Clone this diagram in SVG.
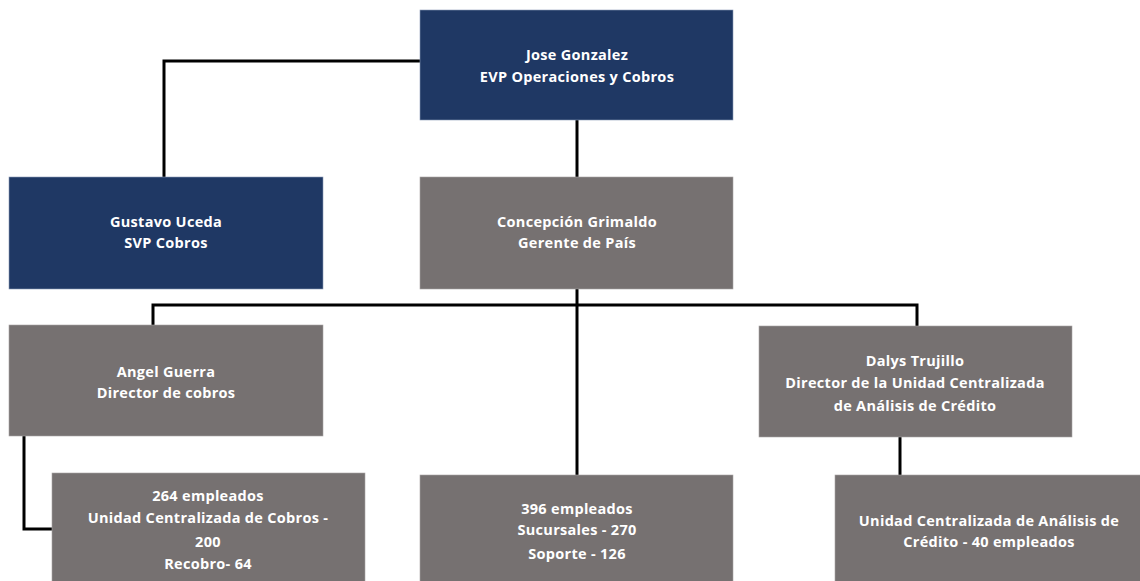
<svg xmlns="http://www.w3.org/2000/svg" width="1140" height="581" viewBox="0 0 1140 581">
<style>
.navy{fill:#1f3864;stroke:#8a9ab5;stroke-width:0.6}
.gray{fill:#767171;stroke:#a8a4a4;stroke-width:0.6}
.t{fill:#ffffff;font-family:"Open Sans","Liberation Sans",sans-serif;font-weight:bold;font-size:14.5px;letter-spacing:0.3px;text-anchor:middle}
.c{fill:none;stroke:#000000;stroke-width:3;stroke-linejoin:miter}
</style>
<rect width="1140" height="581" fill="#ffffff"/>
<g id="connectors">
<polyline class="c" points="420,61 164,61 164,177"/>
<line class="c" x1="577" y1="120" x2="577" y2="177"/>
<polyline class="c" points="153,325 153,305 917,305 917,326"/>
<line class="c" x1="577" y1="289" x2="577" y2="475"/>
<polyline class="c" points="24,436 24,529 52,529"/>
<line class="c" x1="900" y1="437" x2="900" y2="475"/>
</g>
<g id="jose">
<rect class="navy" x="420" y="10" width="313" height="110"/>
<text class="t" x="577" y="60">Jose Gonzalez</text>
<text class="t" x="577" y="82">EVP Operaciones y Cobros</text>
</g>
<g id="gustavo">
<rect class="navy" x="9" y="177" width="314" height="112"/>
<text class="t" x="166" y="227">Gustavo Uceda</text>
<text class="t" x="166" y="248">SVP Cobros</text>
</g>
<g id="concepcion">
<rect class="gray" x="420" y="177" width="313" height="112"/>
<text class="t" x="577" y="227">Concepción Grimaldo</text>
<text class="t" x="577" y="248">Gerente de País</text>
</g>
<g id="angel">
<rect class="gray" x="9" y="325" width="314" height="111"/>
<text class="t" x="166" y="377">Angel Guerra</text>
<text class="t" x="166" y="398">Director de cobros</text>
</g>
<g id="dalys">
<rect class="gray" x="759" y="326" width="313" height="111"/>
<text class="t" x="915" y="366">Dalys Trujillo</text>
<text class="t" x="915" y="388">Director de la Unidad Centralizada</text>
<text class="t" x="915" y="411">de Análisis de Crédito</text>
</g>
<g id="cobros">
<rect class="gray" x="52" y="473" width="313" height="110"/>
<text class="t" x="208" y="501">264 empleados</text>
<text class="t" x="208" y="523">Unidad Centralizada de Cobros -</text>
<text class="t" x="208" y="547">200</text>
<text class="t" x="208" y="569">Recobro- 64</text>
</g>
<g id="sucursales">
<rect class="gray" x="420" y="475" width="313" height="108"/>
<text class="t" x="577" y="514">396 empleados</text>
<text class="t" x="577" y="535">Sucursales - 270</text>
<text class="t" x="577" y="559">Soporte - 126</text>
</g>
<g id="analisis">
<rect class="gray" x="835" y="475" width="307" height="108"/>
<text class="t" x="989" y="526">Unidad Centralizada de Análisis de</text>
<text class="t" x="989" y="547">Crédito - 40 empleados</text>
</g>
</svg>
